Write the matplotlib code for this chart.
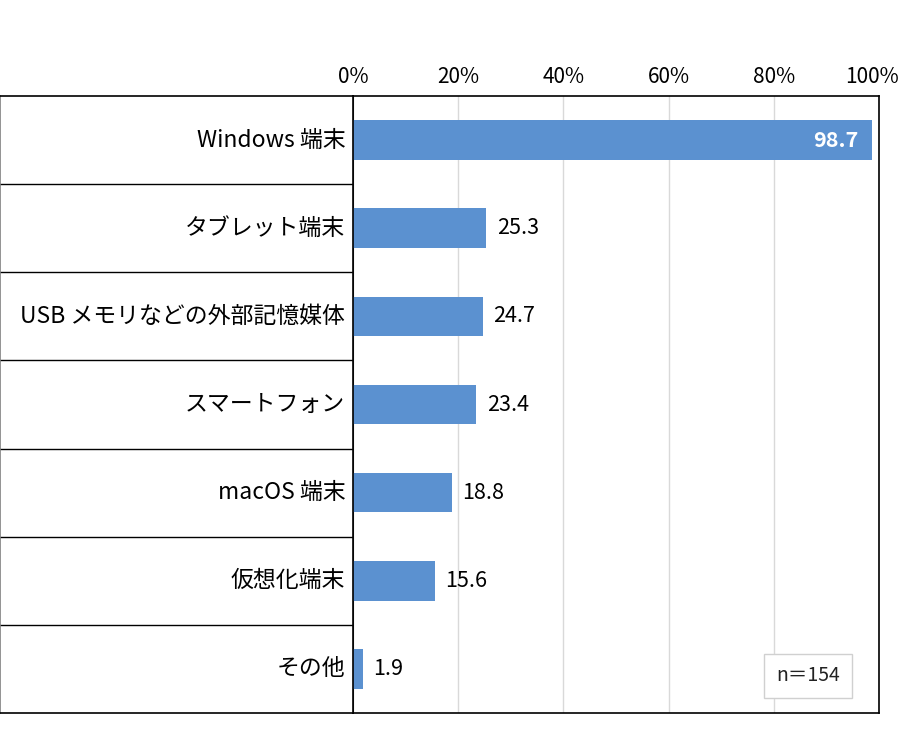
import matplotlib
matplotlib.use("Agg")
import matplotlib.pyplot as plt
from matplotlib.transforms import ScaledTranslation

plt.rcParams['font.family'] = ['Noto Sans CJK JP', 'DejaVu Sans']

categories = ["Windows 端末", "タブレット端末", "USB メモリなどの外部記憶媒体",
              "スマートフォン", "macOS 端末", "仮想化端末", "その他"]
values = [98.7, 25.3, 24.7, 23.4, 18.8, 15.6, 1.9]
xticks = [0, 20, 40, 60, 80, 100]
xtick_labels = ["0%", "20%", "40%", "60%", "80%", "100%"]
note = "n＝154"

W, H = 900, 734
fig = plt.figure(figsize=(W / 100, H / 100), dpi=100)

left, right, top, bottom = 353, 879, 96, 713
ax = fig.add_axes([left / W, (H - bottom) / H, (right - left) / W, (bottom - top) / H])
lab = fig.add_axes([0, (H - bottom) / H, left / W, (bottom - top) / H])

n = len(categories)
ypos = list(range(n))
bar_color = "#5b91d0"
ax.barh(ypos, values, height=0.45, color=bar_color, zorder=3)
ax.set_xlim(0, 100)
ax.set_ylim(n - 0.5, -0.5)
ax.xaxis.tick_top()
ax.set_xticks(xticks)
ax.set_xticklabels(xtick_labels, fontsize=15)
ax.tick_params(axis='x', length=0, pad=6)
last = ax.get_xticklabels()[-1]
last.set_transform(last.get_transform() + ScaledTranslation(-0.07, 0, fig.dpi_scale_trans))
ax.set_yticks([])
ax.grid(axis='x', color="#d9d9d9", linewidth=1, zorder=0)
for s in ax.spines.values():
    s.set_color("black")
    s.set_linewidth(1.2)

for y, v in zip(ypos, values):
    if v > 90:
        ax.text(v - 2.7, y, f"{v:.1f}", ha='right', va='center', color='white',
                fontsize=15.5, fontweight='bold', zorder=4)
    else:
        ax.text(v + 2, y, f"{v:.1f}", ha='left', va='center', color='black',
                fontsize=15.5, zorder=4)

ax.text(0.865, 0.06, note, transform=ax.transAxes, ha='center', va='center',
        fontsize=14, color="#222222", zorder=5,
        bbox=dict(boxstyle='square,pad=0.6', facecolor='white', edgecolor='#d0d0d0', linewidth=1))

# label panel
lab.set_xlim(0, 1)
lab.set_ylim(n - 0.5, -0.5)
lab.set_xticks([])
lab.set_yticks([])
for s in lab.spines.values():
    s.set_color("black")
    s.set_linewidth(1.2)
lab.spines['left'].set_color("#808080")
for i in range(1, n):
    lab.axhline(i - 0.5, color='black', linewidth=1)
for y, c in zip(ypos, categories):
    lab.text(0.978, y, c, ha='right', va='center', fontsize=16.5, color='black')

fig.savefig("out.png", dpi=100)
